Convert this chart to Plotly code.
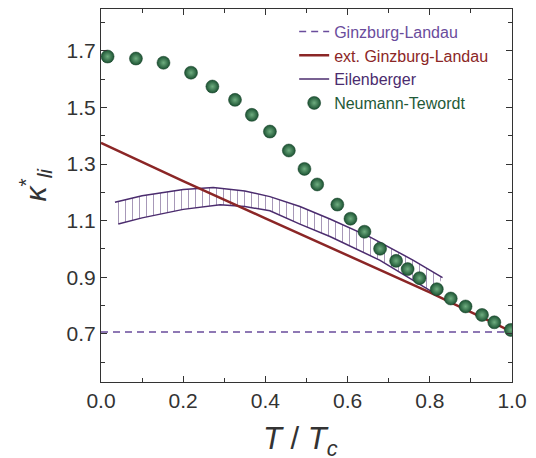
import plotly.graph_objects as go

# ---- data ----
gl_T = [0.0, 1.0]
gl_kappa = [0.707, 0.707]

ext_T = [0.0, 0.2, 0.4, 0.6, 0.8, 1.0]
ext_kappa = [1.375, 1.240, 1.108, 0.978, 0.847, 0.707]

eil_upper_T = [0.034, 0.1, 0.2, 0.273, 0.35, 0.411, 0.484, 0.557, 0.655, 0.76, 0.831]
eil_upper = [1.165, 1.188, 1.210, 1.217, 1.205, 1.185, 1.150, 1.106, 1.042, 0.960, 0.899]
eil_lower_T = [0.042, 0.1, 0.2, 0.29, 0.35, 0.411, 0.484, 0.557, 0.679, 0.81]
eil_lower = [1.088, 1.110, 1.140, 1.156, 1.150, 1.135, 1.088, 1.044, 0.960, 0.845]

nt_T = [0.016, 0.085, 0.152, 0.219, 0.271, 0.326, 0.367, 0.411, 0.457, 0.495, 0.526,
        0.575, 0.607, 0.641, 0.679, 0.718, 0.746, 0.775, 0.817, 0.851, 0.887, 0.927,
        0.957, 0.997]
nt_kappa = [1.680, 1.673, 1.658, 1.623, 1.574, 1.527, 1.474, 1.415, 1.348, 1.283, 1.228,
            1.157, 1.107, 1.061, 1.001, 0.958, 0.929, 0.897, 0.858, 0.825, 0.797, 0.767,
            0.741, 0.714]

x_ticks = [0.0, 0.2, 0.4, 0.6, 0.8, 1.0]
y_ticks = [0.7, 0.9, 1.1, 1.3, 1.5, 1.7]

# ---- styles ----
C_GL = "#6a4c9c"
C_EXT = "#8b2626"
C_EIL = "#4b2c6e"
C_NT = "#1f5a38"
FONT = "Liberation Sans, Arial, sans-serif"

fig = go.Figure()

# hatched band
fig.add_trace(go.Scatter(
    x=eil_upper_T + eil_lower_T[::-1],
    y=eil_upper + eil_lower[::-1],
    mode="lines", line=dict(width=0), fill="toself",
    fillcolor="rgba(0,0,0,0)",
    fillpattern=dict(shape="|", size=7, solidity=0.14, fgcolor=C_EIL,
                     bgcolor="rgba(0,0,0,0)", fillmode="overlay"),
    showlegend=False, hoverinfo="skip"))

fig.add_trace(go.Scatter(x=gl_T, y=gl_kappa, mode="lines",
                         line=dict(color=C_GL, width=1.5, dash="7px,5px"),
                         name=f"<span style='color:{C_GL}'>Ginzburg-Landau</span>",
                         legendrank=1))
fig.add_trace(go.Scatter(x=eil_upper_T, y=eil_upper, mode="lines",
                         line=dict(color=C_EIL, width=1.5),
                         name=f"<span style='color:{C_EIL}'>Eilenberger</span>",
                         legendrank=3))
fig.add_trace(go.Scatter(x=eil_lower_T, y=eil_lower, mode="lines",
                         line=dict(color=C_EIL, width=1.5), showlegend=False))
fig.add_trace(go.Scatter(x=ext_T, y=ext_kappa, mode="lines",
                         line=dict(color=C_EXT, width=2.5),
                         name=f"<span style='color:{C_EXT}'>ext. Ginzburg-Landau</span>",
                         legendrank=2))
fig.add_trace(go.Scatter(x=nt_T, y=nt_kappa, mode="markers",
                         marker=dict(size=13, color="#1b5232",
                                     gradient=dict(type="radial", color="#6fae80"),
                                     line=dict(width=0.5, color="#143f26")),
                         name=f"<span style='color:{C_NT}'>Neumann-Tewordt</span>",
                         legendrank=4))

axis_common = dict(
    showline=True, linecolor="#333333", linewidth=1, mirror="ticks",
    ticks="inside", ticklen=6, tickcolor="#333333", tickwidth=1,
    showgrid=False, zeroline=False,
    tickfont=dict(family=FONT, size=21, color="#333333"),
)

fig.update_xaxes(range=[0, 1], tickvals=x_ticks, ticktext=[f"{v:.1f}" for v in x_ticks],
                 minor=dict(ticks="inside", ticklen=4, dtick=0.1, tick0=0, tickcolor="#333333"),
                 **axis_common)
fig.update_yaxes(range=[0.53, 1.848], tickvals=y_ticks, ticktext=[f"{v:.1f}" for v in y_ticks],
                 minor=dict(ticks="inside", ticklen=4, dtick=0.1, tick0=0.6, tickcolor="#333333"),
                 **axis_common)

fig.update_layout(
    width=536, height=458,
    margin=dict(l=101, r=24, t=9, b=76, autoexpand=False),
    paper_bgcolor="white", plot_bgcolor="white",
    font=dict(family=FONT, color="#333333"),
    legend=dict(x=0.47, y=0.985, xanchor="left", yanchor="top",
                bgcolor="rgba(0,0,0,0)", font=dict(family=FONT, size=16),
                itemwidth=30, tracegroupgap=0),
    annotations=[
        dict(text="<i>T</i> / <i>T</i><sub><i>c</i></sub>", xref="paper", yref="paper",
             x=0.485, y=-0.1, xanchor="center", yanchor="top", showarrow=False,
             font=dict(family=FONT, size=31, color="#333333")),
        dict(text="<i>κ</i><sup>*</sup><sub><i>li</i></sub>", xref="paper", yref="paper",
             x=-0.16, y=0.53, xanchor="center", yanchor="middle", textangle=-90,
             showarrow=False, font=dict(family=FONT, size=30, color="#333333")),
    ],
)

fig.write_html("out.html", config={"displayModeBar": False},
               post_script="document.body.style.margin='0';")
